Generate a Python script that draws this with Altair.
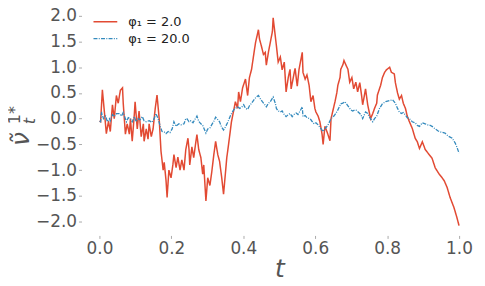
import altair as alt
import pandas as pd

# (t, value) readings for each path
red_points = [
    (0.000, -0.05), (0.003, -0.06), (0.008, 0.56), (0.014, 0.10), (0.019, -0.29), (0.025, -0.05),
    (0.030, -0.25), (0.036, 0.27), (0.041, 0.00), (0.047, 0.45), (0.052, 0.30), (0.058, 0.55),
    (0.064, 0.60), (0.066, 0.30), (0.072, -0.30), (0.077, -0.10), (0.083, -0.30), (0.086, 0.00),
    (0.091, -0.44), (0.097, 0.10), (0.099, 0.33), (0.105, -0.20), (0.110, 0.15), (0.116, -0.35),
    (0.122, -0.10), (0.124, -0.44), (0.130, -0.20), (0.135, -0.40), (0.138, -0.10), (0.144, -0.35),
    (0.149, -0.20), (0.155, 0.20), (0.160, 0.46), (0.166, 0.00), (0.171, -0.63), (0.177, -1.00),
    (0.180, -0.85), (0.185, -1.20), (0.188, -1.53), (0.193, -1.00), (0.199, -1.15), (0.204, -0.90),
    (0.207, -0.70), (0.213, -0.95), (0.218, -0.75), (0.224, -1.00), (0.229, -0.80), (0.235, -1.00),
    (0.240, -0.60), (0.246, -0.38), (0.249, -0.60), (0.251, -0.90), (0.257, -0.55), (0.262, -0.76),
    (0.268, -0.45), (0.271, -0.31), (0.276, -0.60), (0.282, -0.76), (0.287, -1.08), (0.290, -0.90),
    (0.296, -1.60), (0.301, -1.15), (0.307, -1.30), (0.312, -1.05), (0.318, -0.70), (0.323, -0.44),
    (0.329, -0.70), (0.334, -0.83), (0.340, -1.15), (0.345, -1.47), (0.351, -1.00), (0.354, -0.76),
    (0.359, -0.50), (0.367, -0.06), (0.373, 0.15), (0.378, 0.33), (0.384, 0.20), (0.387, 0.52),
    (0.392, 0.33), (0.398, 0.60), (0.406, 0.77), (0.412, 0.45), (0.417, 0.80), (0.423, 0.96),
    (0.428, 1.20), (0.434, 1.48), (0.442, 1.73), (0.445, 1.55), (0.450, 1.42), (0.456, 1.25),
    (0.461, 1.29), (0.464, 1.04), (0.470, 1.30), (0.475, 1.48), (0.481, 1.70), (0.483, 1.96),
    (0.489, 1.60), (0.492, 1.42), (0.497, 1.10), (0.503, 1.20), (0.508, 0.95), (0.514, 1.10),
    (0.519, 0.52), (0.525, 0.80), (0.530, 0.96), (0.533, 0.58), (0.539, 0.80), (0.544, 0.98),
    (0.550, 0.63), (0.555, 0.96), (0.564, 1.29), (0.566, 0.90), (0.572, 0.77), (0.577, 0.85),
    (0.583, 0.65), (0.588, 0.33), (0.594, 0.45), (0.599, 0.20), (0.602, 0.13), (0.608, 0.05),
    (0.613, -0.06), (0.619, -0.30), (0.622, -0.50), (0.627, -0.15), (0.630, -0.20), (0.635, -0.30),
    (0.641, -0.43), (0.644, 0.00), (0.649, 0.15), (0.655, 0.33), (0.660, 0.50), (0.663, 0.65),
    (0.669, 0.80), (0.671, 0.96), (0.677, 1.05), (0.680, 1.13), (0.685, 1.05), (0.691, 0.96),
    (0.696, 0.71), (0.702, 0.80), (0.707, 0.58), (0.713, 0.71), (0.718, 0.52), (0.724, 0.70),
    (0.729, 0.45), (0.732, 0.27), (0.738, 0.50), (0.740, 0.58), (0.746, 0.27), (0.754, 0.00),
    (0.760, 0.10), (0.765, 0.20), (0.771, 0.30), (0.773, 0.46), (0.782, 0.65), (0.787, 0.80),
    (0.793, 0.90), (0.798, 0.95), (0.807, 1.00), (0.812, 0.90), (0.820, 0.87), (0.823, 0.70),
    (0.829, 0.50), (0.834, 0.38), (0.840, 0.45), (0.845, 0.30), (0.851, 0.20), (0.856, 0.05),
    (0.862, -0.06), (0.870, -0.19), (0.878, -0.38), (0.884, -0.45), (0.890, -0.58), (0.898, -0.45),
    (0.906, -0.60), (0.917, -0.70), (0.925, -0.77), (0.934, -0.96), (0.945, -1.08), (0.953, -1.15),
    (0.959, -1.21), (0.967, -1.34), (0.975, -1.53), (0.986, -1.73), (0.994, -1.92), (1.000, -2.08),
]

blue_points = [
    (0.000, -0.05), (0.003, -0.06), (0.006, 0.13), (0.011, 0.00), (0.017, 0.05), (0.022, -0.06),
    (0.028, 0.00), (0.030, -0.04), (0.036, 0.08), (0.041, 0.04), (0.047, 0.10), (0.055, 0.10),
    (0.061, 0.05), (0.066, 0.12), (0.075, -0.06), (0.080, 0.02), (0.086, 0.00), (0.091, -0.06),
    (0.097, 0.04), (0.102, -0.06), (0.108, 0.00), (0.113, -0.02), (0.119, 0.04), (0.124, -0.04),
    (0.130, -0.06), (0.138, -0.04), (0.146, -0.07), (0.152, 0.00), (0.157, 0.10), (0.163, 0.00),
    (0.169, -0.15), (0.174, -0.25), (0.180, -0.26), (0.185, -0.29), (0.191, -0.25), (0.196, -0.27),
    (0.202, -0.20), (0.207, -0.06), (0.213, -0.15), (0.215, -0.13), (0.221, -0.10), (0.227, -0.12),
    (0.235, -0.10), (0.240, 0.00), (0.243, 0.00), (0.249, -0.06), (0.254, -0.04), (0.260, -0.08),
    (0.265, -0.02), (0.271, 0.05), (0.276, -0.05), (0.282, -0.10), (0.287, -0.13), (0.296, -0.28),
    (0.301, -0.20), (0.307, -0.18), (0.312, -0.12), (0.318, -0.05), (0.323, 0.03), (0.329, -0.02),
    (0.334, -0.06), (0.340, -0.17), (0.345, -0.22), (0.351, -0.15), (0.356, -0.08), (0.365, 0.07),
    (0.373, 0.17), (0.378, 0.20), (0.384, 0.23), (0.390, 0.20), (0.395, 0.22), (0.401, 0.27),
    (0.406, 0.20), (0.412, 0.18), (0.417, 0.25), (0.423, 0.30), (0.431, 0.38), (0.436, 0.42),
    (0.442, 0.45), (0.448, 0.38), (0.453, 0.33), (0.459, 0.28), (0.464, 0.23), (0.470, 0.30),
    (0.475, 0.33), (0.483, 0.42), (0.489, 0.30), (0.492, 0.20), (0.497, 0.15), (0.503, 0.13),
    (0.508, 0.15), (0.514, 0.08), (0.519, 0.04), (0.525, 0.08), (0.530, 0.10), (0.536, 0.04),
    (0.541, 0.08), (0.547, 0.11), (0.552, 0.08), (0.558, 0.15), (0.564, 0.23), (0.566, 0.04),
    (0.572, 0.06), (0.577, 0.02), (0.586, 0.00), (0.591, -0.05), (0.597, -0.10), (0.602, -0.08),
    (0.608, -0.12), (0.613, -0.17), (0.622, -0.25), (0.627, -0.20), (0.635, -0.13), (0.644, 0.00),
    (0.652, 0.05), (0.657, 0.10), (0.663, 0.17), (0.671, 0.29), (0.677, 0.30), (0.682, 0.33),
    (0.688, 0.28), (0.693, 0.23), (0.699, 0.17), (0.704, 0.15), (0.710, 0.17), (0.715, 0.16),
    (0.721, 0.12), (0.727, 0.08), (0.732, 0.00), (0.738, 0.10), (0.740, 0.13), (0.746, 0.10),
    (0.751, 0.03), (0.760, -0.06), (0.765, 0.00), (0.771, 0.05), (0.779, 0.20), (0.787, 0.29),
    (0.796, 0.33), (0.807, 0.35), (0.815, 0.37), (0.823, 0.30), (0.829, 0.20), (0.834, 0.13),
    (0.840, 0.10), (0.845, 0.12), (0.851, 0.07), (0.856, 0.02), (0.862, 0.00), (0.870, -0.06),
    (0.878, -0.08), (0.884, -0.13), (0.890, -0.15), (0.898, -0.08), (0.906, -0.10), (0.912, -0.12),
    (0.917, -0.12), (0.925, -0.15), (0.934, -0.20), (0.942, -0.24), (0.950, -0.26), (0.961, -0.28),
    (0.970, -0.34), (0.981, -0.38), (0.989, -0.47), (0.994, -0.55), (1.000, -0.67),
]

series_names = ["φ₁ = 2.0", "φ₁ = 20.0"]
series_colors = ["#E24A33", "#348ABD"]
series_dashes = [[1, 0], [4, 1.3, 1, 1.3]]
series_widths = [1.5, 1.3]
x_ticks = [0.0, 0.2, 0.4, 0.6, 0.8, 1.0]
y_ticks = [-2.0, -1.5, -1.0, -0.5, 0.0, 0.5, 1.0, 1.5, 2.0]

rows = []
for name, pts in zip(series_names, [red_points, blue_points]):
    for t, v in pts:
        rows.append({"t": t, "v": v, "series": name})
df = pd.DataFrame(rows)

FONT = "DejaVu Sans"
GREY = "#555555"

legend = alt.Legend(
    title=None, orient="none", legendX=14, legendY=-1,
    symbolType="M-1.33,0L1.33,0", symbolSize=324, symbolStrokeWidth=1.5,
    labelFont=FONT, labelFontSize=13, labelColor="#222222",
    labelOffset=13, padding=0, rowPadding=0,
)

lines = alt.Chart(df).mark_line().encode(
    x=alt.X(
        "t:Q",
        scale=alt.Scale(domain=[-0.05, 1.05], nice=False, zero=False),
        axis=alt.Axis(
            values=x_ticks, format=".1f", title="t", domain=False, grid=False,
            tickColor="#aaaaaa", tickSize=3, labelFont=FONT, labelFontSize=17,
            labelColor=GREY, labelPadding=2, titleFont=FONT, titleFontStyle="italic",
            titleFontSize=25, titleFontWeight="normal", titleColor=GREY, titlePadding=0,
        ),
    ),
    y=alt.Y(
        "v:Q",
        scale=alt.Scale(domain=[-2.271, 2.058], nice=False, zero=False),
        axis=alt.Axis(
            values=y_ticks, format=".1f", title=None, domain=False, grid=False,
            tickColor="#aaaaaa", tickSize=3, labelFont=FONT, labelFontSize=17,
            labelColor=GREY, labelPadding=2,
        ),
    ),
    color=alt.Color("series:N", scale=alt.Scale(domain=series_names, range=series_colors), legend=legend),
    strokeDash=alt.StrokeDash("series:N", scale=alt.Scale(domain=series_names, range=series_dashes), legend=legend),
    strokeWidth=alt.StrokeWidth("series:N", scale=alt.Scale(domain=series_names, range=series_widths), legend=None),
)

one = pd.DataFrame({"k": [0]})
nu = alt.Chart(one).mark_text(
    text="ν̃", angle=270, align="left", baseline="alphabetic", font=FONT,
    fontStyle="italic", fontSize=25, color=GREY,
).encode(x=alt.value(-53), y=alt.value(134))
sup = alt.Chart(one).mark_text(
    text="1*", angle=270, align="left", baseline="alphabetic", font=FONT,
    fontSize=16, color=GREY,
).encode(x=alt.value(-62), y=alt.value(112))
sub = alt.Chart(one).mark_text(
    text="t", angle=270, align="left", baseline="alphabetic", font=FONT,
    fontStyle="italic", fontSize=16, color=GREY,
).encode(x=alt.value(-47), y=alt.value(112))

chart = alt.layer(lines, nu, sup, sub).properties(
    width=398, height=224,
    autosize=alt.AutoSizeParams(type="none"),
    padding={"left": 74, "top": 4, "right": 0, "bottom": 50},
    background="white",
).configure_view(stroke=None)

chart.save("out.html", embed_options={"renderer": "svg", "actions": False})
